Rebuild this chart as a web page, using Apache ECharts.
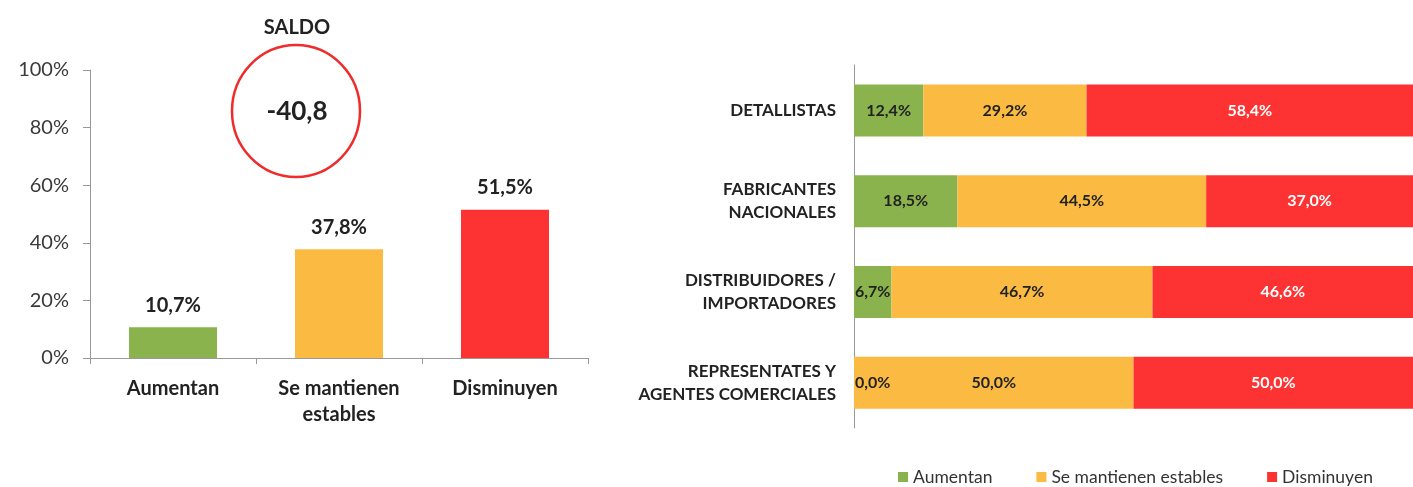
<!DOCTYPE html>
<html>
<head>
<meta charset="utf-8">
<script src="https://cdn.jsdelivr.net/npm/echarts@6/dist/echarts.min.js"></script>
<style>
  html, body { margin: 0; padding: 0; background: #fff; }
  #chart { width: 1413px; height: 487px; }
</style>
</head>
<body>
<div id="chart"></div>
<script>
// grafico izquierdo
var totalCats = ["Aumentan", "Se mantienen\nestables", "Disminuyen"];
var totalVals = [10.7, 37.8, 51.5];
var saldo = -40.8;

// grafico derecho (apilado)
var agentes = ["DETALLISTAS", "FABRICANTES\nNACIONALES", "DISTRIBUIDORES /\nIMPORTADORES", "REPRESENTATES Y\nAGENTES COMERCIALES"];
var aumentan = [12.4, 18.5, 6.7, 0.0];
var estables = [29.2, 44.5, 46.7, 50.0];
var disminuyen = [58.4, 37.0, 46.6, 50.0];
var serieNames = ["Aumentan", "Se mantienen estables", "Disminuyen"];

var colors = ["#8ab34d", "#fbbb42", "#fd3232"];
var FONT = "Lato";

function pct(v) {
  return v.toFixed(1).replace(".", ",") + "%";
}

// etiquetas de segmentos muy estrechos van pegadas al eje
function stackData(arr) {
  return arr.map(function (v) {
    if (v < 8) {
      return { value: v, label: { position: "insideLeft", distance: 1 } };
    }
    return v;
  });
}

var chart = echarts.init(document.getElementById("chart"));
chart.setOption({
  animation: false,
  textStyle: { fontFamily: FONT },
  legend: {
    data: serieNames,
    left: 893,
    top: 463,
    itemWidth: 10,
    itemHeight: 10,
    itemGap: 44,
    icon: "rect",
    textStyle: { fontSize: 17.5, color: "#333", fontFamily: FONT }
  },
  grid: [
    { left: 90, top: 70, width: 498, height: 288 },
    { left: 854, top: 65, right: 0, height: 363 }
  ],
  xAxis: [
    {
      gridIndex: 0,
      type: "category",
      data: totalCats,
      axisLine: { lineStyle: { color: "#999" } },
      axisTick: { show: true, length: 6, lineStyle: { color: "#999" } },
      axisLabel: { fontSize: 20, fontWeight: "bold", color: "#222", margin: 18, lineHeight: 26, fontFamily: FONT }
    },
    {
      gridIndex: 1,
      type: "value",
      min: 0,
      max: 100,
      show: false
    }
  ],
  yAxis: [
    {
      gridIndex: 0,
      type: "value",
      min: 0,
      max: 100,
      interval: 20,
      axisLine: { show: true, lineStyle: { color: "#999" } },
      axisTick: { show: true, length: 7, lineStyle: { color: "#999" } },
      splitLine: { show: false },
      axisLabel: {
        fontSize: 20,
        color: "#3a3a3a",
        margin: 21,
        fontFamily: FONT,
        formatter: function (v) { return v + "%"; }
      }
    },
    {
      gridIndex: 1,
      type: "category",
      data: agentes,
      inverse: true,
      axisLine: { show: true, lineStyle: { color: "#999" } },
      axisTick: { show: false },
      axisLabel: { fontSize: 17, fontWeight: "bold", color: "#222", margin: 18, lineHeight: 23, align: "right", fontFamily: FONT }
    }
  ],
  series: [
    {
      type: "bar",
      xAxisIndex: 0,
      yAxisIndex: 0,
      barWidth: 88,
      data: totalVals.map(function (v, i) {
        return { value: v, itemStyle: { color: colors[i] } };
      }),
      label: {
        show: true,
        position: "top",
        distance: 12,
        fontSize: 20,
        fontWeight: "bold",
        color: "#222",
        fontFamily: FONT,
        formatter: function (p) { return pct(p.value); }
      }
    },
    {
      name: serieNames[0],
      type: "bar",
      stack: "t",
      xAxisIndex: 1,
      yAxisIndex: 1,
      barWidth: 52,
      itemStyle: { color: colors[0] },
      data: stackData(aumentan),
      label: {
        show: true,
        position: "inside",
        fontSize: 16,
        fontWeight: "bold",
        color: "#222",
        fontFamily: FONT,
        formatter: function (p) { return pct(p.value); }
      }
    },
    {
      name: serieNames[1],
      type: "bar",
      stack: "t",
      xAxisIndex: 1,
      yAxisIndex: 1,
      barWidth: 52,
      itemStyle: { color: colors[1] },
      data: estables,
      label: {
        show: true,
        position: "inside",
        fontSize: 16,
        fontWeight: "bold",
        color: "#222",
        fontFamily: FONT,
        formatter: function (p) { return pct(p.value); }
      }
    },
    {
      name: serieNames[2],
      type: "bar",
      stack: "t",
      xAxisIndex: 1,
      yAxisIndex: 1,
      barWidth: 52,
      itemStyle: { color: colors[2] },
      data: disminuyen,
      label: {
        show: true,
        position: "inside",
        fontSize: 16,
        fontWeight: "bold",
        color: "#fff",
        fontFamily: FONT,
        formatter: function (p) { return pct(p.value); }
      }
    }
  ],
  graphic: [
    {
      type: "text",
      x: 297,
      y: 28,
      style: { text: "SALDO", fontSize: 20, fontWeight: "bold", fill: "#222", fontFamily: FONT, align: "center", verticalAlign: "middle" }
    },
    {
      type: "ellipse",
      shape: { cx: 296, cy: 111, rx: 64, ry: 66 },
      style: { fill: "none", stroke: "#f02b2b", lineWidth: 2.5 }
    },
    {
      type: "text",
      x: 297,
      y: 112,
      style: {
        text: saldo.toFixed(1).replace(".", ","),
        fontSize: 26,
        fontWeight: "bold",
        fill: "#222",
        fontFamily: FONT,
        align: "center",
        verticalAlign: "middle"
      }
    }
  ]
});
</script>
</body>
</html>
